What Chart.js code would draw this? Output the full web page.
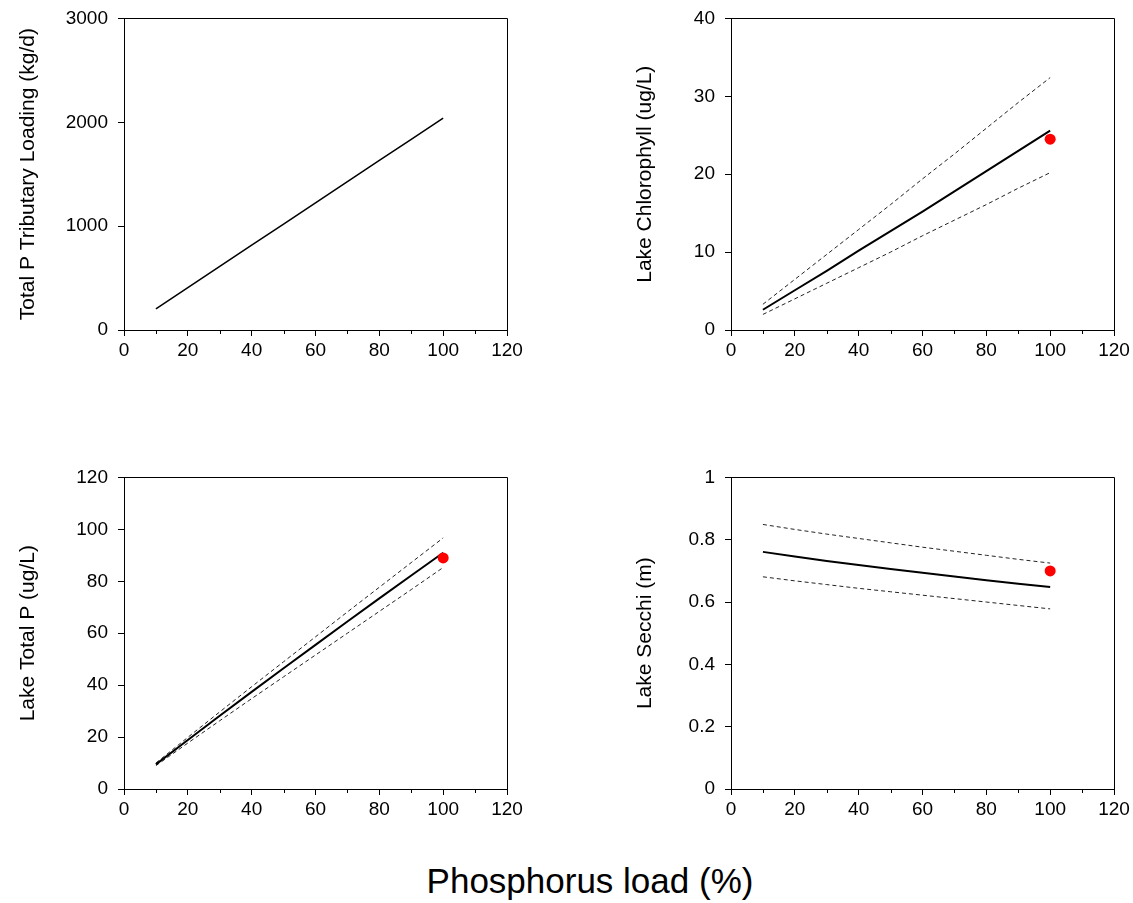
<!DOCTYPE html>
<html>
<head>
<meta charset="utf-8">
<script src="https://cdn.jsdelivr.net/npm/chart.js@4.4.1/dist/chart.umd.min.js"></script>
<style>
  html, body { margin: 0; padding: 0; background: #fff; }
  body { width: 1133px; height: 903px; position: relative; overflow: hidden; font-family: "Liberation Sans", Arial, sans-serif; }
  .panel { position: absolute; width: 535px; height: 373px; }
  #xtitle { position: absolute; left: 340px; top: 861px; width: 500px; text-align: center; font-size: 35px; line-height: 40px; color: #000; }
</style>
</head>
<body>
<div class="panel" style="left:0px;top:-3px"><canvas id="c1" width="535" height="373"></canvas></div>
<div class="panel" style="left:607px;top:-3px"><canvas id="c2" width="535" height="373"></canvas></div>
<div class="panel" style="left:0px;top:456px"><canvas id="c3" width="535" height="373"></canvas></div>
<div class="panel" style="left:607px;top:456px"><canvas id="c4" width="535" height="373"></canvas></div>
<div id="xtitle">Phosphorus load (%)</div>
<script>
// ---- data ----
const loadPct = [10, 20, 30, 40, 50, 60, 70, 80, 90, 100];

const tribLoading = [204, 408, 612, 816, 1020, 1224, 1428, 1632, 1836, 2040];

const chlMean  = [2.6, 5.1, 7.6, 10.2, 12.7, 15.2, 17.8, 20.4, 23.0, 25.6];
const chlUpper = [3.3, 6.5, 9.7, 12.9, 16.1, 19.4, 22.6, 25.9, 29.2, 32.4];
const chlLower = [2.0, 4.0, 6.0, 8.0, 10.0, 12.1, 14.1, 16.1, 18.2, 20.2];

const tpMean  = [9.5, 18.9, 28.2, 37.4, 46.5, 55.5, 64.5, 73.4, 82.2, 91.0];
const tpUpper = [10.0, 19.9, 29.7, 39.4, 49.0, 58.6, 68.2, 77.7, 87.2, 96.7];
const tpLower = [9.0, 17.7, 26.3, 34.8, 43.2, 51.6, 60.0, 68.4, 76.8, 85.3];

const secchiMean  = [0.761, 0.746, 0.732, 0.719, 0.706, 0.694, 0.682, 0.670, 0.659, 0.648];
const secchiUpper = [0.849, 0.833, 0.818, 0.804, 0.790, 0.776, 0.763, 0.750, 0.737, 0.725];
const secchiLower = [0.681, 0.668, 0.656, 0.644, 0.633, 0.622, 0.611, 0.600, 0.589, 0.578];

const obsX = [100];
const obsChl = [24.5];
const obsTP = [89];
const obsSecchi = [0.70];

const xTicks = [0, 20, 40, 60, 80, 100, 120];
const xMinorTicks = [10, 30, 50, 70, 90, 110];

// ---- helpers ----
const FONT = '"Liberation Sans", Arial, sans-serif';
const pts = (xs, ys) => xs.map((x, i) => ({ x: x, y: ys[i] }));

const boxPlugin = {
  id: 'boxAndMinor',
  afterDraw(chart) {
    const { ctx, chartArea: a, scales } = chart;
    ctx.save();
    ctx.strokeStyle = '#000';
    ctx.lineWidth = 1;
    ctx.beginPath();
    ctx.moveTo(Math.round(a.left) + 0.5, Math.round(a.top) + 0.5);
    ctx.lineTo(Math.round(a.right) + 0.5, Math.round(a.top) + 0.5);
    ctx.lineTo(Math.round(a.right) + 0.5, Math.round(a.bottom) + 0.5);
    ctx.stroke();
    ctx.beginPath();
    xMinorTicks.forEach(v => {
      const px = Math.round(scales.x.getPixelForValue(v)) + 0.5;
      ctx.moveTo(px, a.bottom);
      ctx.lineTo(px, a.bottom + 4);
    });
    ctx.stroke();
    ctx.restore();
  }
};

function makeChart(id, datasets, yOpts, titleText, titlePad) {
  return new Chart(document.getElementById(id), {
    type: 'scatter',
    data: { datasets: datasets },
    plugins: [boxPlugin],
    options: {
      responsive: false,
      animation: false,
      events: [],
      layout: { padding: { top: 14, right: 28, bottom: 0, left: 0 } },
      plugins: { legend: { display: false }, tooltip: { enabled: false } },
      scales: {
        x: {
          type: 'linear', min: 0, max: 120,
          afterBuildTicks: s => { s.ticks = xTicks.map(v => ({ value: v })); },
          afterFit: s => { s.height = 40; },
          grid: { display: true, drawOnChartArea: false, drawTicks: true, tickLength: 6, color: '#000', tickWidth: 1 },
          border: { display: true, color: '#000', width: 1 },
          ticks: { color: '#000', font: { family: FONT, size: 19 }, padding: 3, maxRotation: 0 }
        },
        y: {
          type: 'linear', min: yOpts.min, max: yOpts.max,
          afterBuildTicks: s => { s.ticks = yOpts.ticks.map(v => ({ value: v })); },
          afterFit: s => { s.width = 124; },
          grid: { display: true, drawOnChartArea: false, drawTicks: true, tickLength: 6, color: '#000', tickWidth: 1 },
          border: { display: true, color: '#000', width: 1 },
          ticks: { color: '#000', font: { family: FONT, size: 19 }, padding: 10, callback: yOpts.fmt || (v => v) },
          title: { display: true, text: titleText, color: '#000', font: { family: FONT, size: 21 }, padding: { top: titlePad, bottom: 0 } }
        }
      }
    }
  });
}

const meanStyle = { showLine: true, borderColor: '#000', borderWidth: 2, pointRadius: 0, tension: 0, fill: false };
const ciStyle = { showLine: true, borderColor: '#222', borderWidth: 1, borderDash: [4, 3], pointRadius: 0, tension: 0, fill: false };
const obsStyle = { showLine: false, pointRadius: 5.5, pointBackgroundColor: '#ff0000', pointBorderColor: '#ff0000', pointBorderWidth: 0 };

makeChart('c1', [
  Object.assign({ data: pts(loadPct, tribLoading) }, meanStyle, { borderWidth: 1.5 })
], { min: 0, max: 3000, ticks: [0, 1000, 2000, 3000] }, 'Total P Tributary Loading (kg/d)', 16);

makeChart('c2', [
  Object.assign({ data: pts(obsX, obsChl) }, obsStyle),
  Object.assign({ data: pts(loadPct, chlMean) }, meanStyle),
  Object.assign({ data: pts(loadPct, chlUpper) }, ciStyle),
  Object.assign({ data: pts(loadPct, chlLower) }, ciStyle)
], { min: 0, max: 40, ticks: [0, 10, 20, 30, 40] }, 'Lake Chlorophyll (ug/L)', 26);

makeChart('c3', [
  Object.assign({ data: pts(obsX, obsTP) }, obsStyle),
  Object.assign({ data: pts(loadPct, tpMean) }, meanStyle),
  Object.assign({ data: pts(loadPct, tpUpper) }, ciStyle),
  Object.assign({ data: pts(loadPct, tpLower) }, ciStyle)
], { min: 0, max: 120, ticks: [0, 20, 40, 60, 80, 100, 120] }, 'Lake Total P (ug/L)', 16);

makeChart('c4', [
  Object.assign({ data: pts(obsX, obsSecchi) }, obsStyle),
  Object.assign({ data: pts(loadPct, secchiMean) }, meanStyle),
  Object.assign({ data: pts(loadPct, secchiUpper) }, ciStyle),
  Object.assign({ data: pts(loadPct, secchiLower) }, ciStyle)
], { min: 0, max: 1, ticks: [0, 0.2, 0.4, 0.6, 0.8, 1], fmt: v => String(+v.toFixed(1)) }, 'Lake Secchi (m)', 26);
</script>
</body>
</html>
